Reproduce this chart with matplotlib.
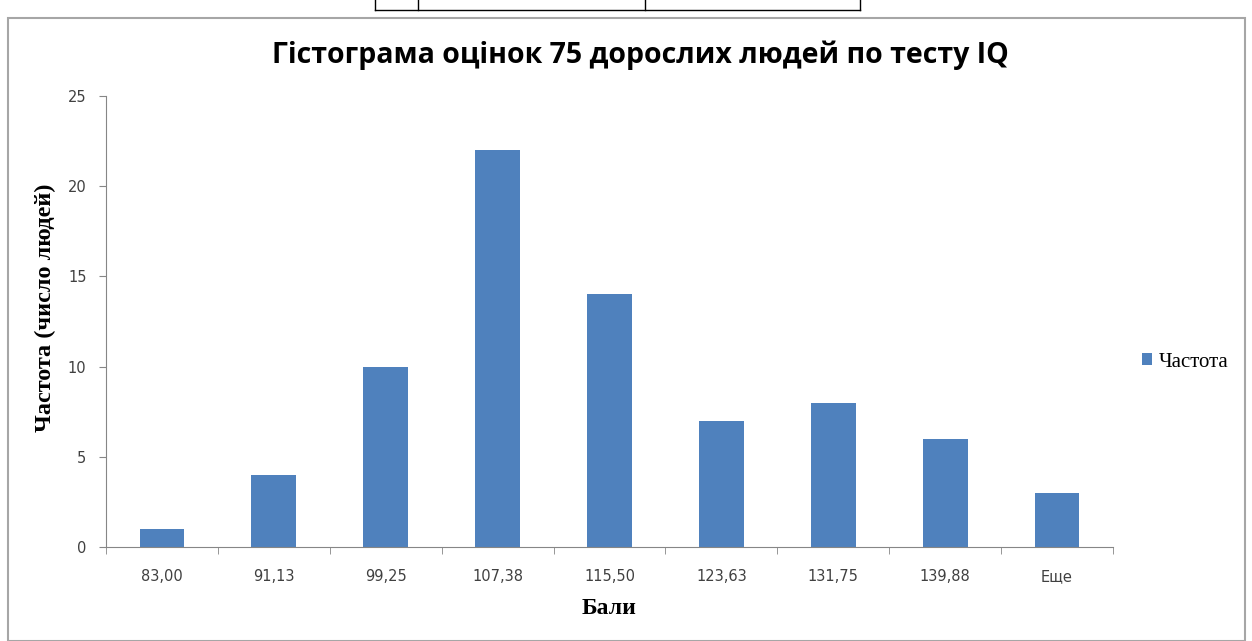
import numpy as np
import matplotlib.pyplot as plt
from matplotlib.patches import Rectangle
from matplotlib.lines import Line2D

# Data
bins = ['83,00', '91,13', '99,25', '107,38', '115,50', '123,63', '131,75', '139,88', 'Еще']
freq = [1, 4, 10, 22, 14, 7, 8, 6, 3]
yticks = [0, 5, 10, 15, 20, 25]

bar_color = '#4F81BD'
axis_color = '#868686'
serif = ['Liberation Serif', 'DejaVu Serif']

fig = plt.figure(figsize=(12.52, 6.41), dpi=100)

# chart border and the bit of table above it
fig.patches.append(Rectangle((8 / 1252, 0), 1237 / 1252, 1 - 18 / 641, transform=fig.transFigure,
                             fill=False, edgecolor='#a6a6a6', linewidth=1.5))
ty = 1 - 10 / 641
fig.lines.append(Line2D([375 / 1252, 860 / 1252], [ty, ty], transform=fig.transFigure, color='black', lw=1))
for xv in [375, 418, 645, 860]:
    fig.lines.append(Line2D([xv / 1252, xv / 1252], [ty, 1], transform=fig.transFigure, color='black', lw=1))

ax = fig.add_axes([106 / 1252, 1 - 547 / 641, (1113 - 106) / 1252, (547 - 96) / 641])
x = np.arange(len(bins))
ax.bar(x, freq, width=0.4, color=bar_color, label='Частота', zorder=2)

ax.set_xlim(-0.5, len(bins) - 0.5)
ax.set_ylim(0, 25)
ax.set_yticks(yticks)
ax.set_yticklabels([str(v) for v in yticks], fontsize=10.5, color='#404040')
ax.set_xticks(x)
ax.set_xticklabels(bins, fontsize=10.5, color='#404040')
ax.tick_params(axis='x', length=0, pad=16)
ax.set_xticks(np.arange(-0.5, len(bins), 1.0), minor=True)
ax.tick_params(axis='x', which='minor', length=5, color=axis_color, direction='out')
ax.tick_params(axis='y', length=5, color=axis_color, direction='out', pad=9)

for s in ['top', 'right']:
    ax.spines[s].set_visible(False)
for s in ['left', 'bottom']:
    ax.spines[s].set_color(axis_color)

ax.set_xlabel('Бали', fontsize=17, fontweight='bold', family=serif, labelpad=10)
ax.set_ylabel('Частота (число людей)', fontsize=17.5, fontweight='bold', family=serif)
ax.yaxis.set_label_coords(-0.05, 0.53)

fig.text(640 / 1252, 1 - 55 / 641, 'Гістограма оцінок 75 дорослих людей по тесту IQ',
         ha='center', va='center', fontsize=20.5, fontweight='bold', family=['Open Sans', 'DejaVu Sans'])

ax.legend(loc='center left', bbox_to_anchor=(1.01, 0.41), frameon=False, handlelength=0.5,
          handleheight=0.5, handletextpad=0.3, prop={'family': serif, 'size': 15})

fig.savefig('out.png', dpi=100)
